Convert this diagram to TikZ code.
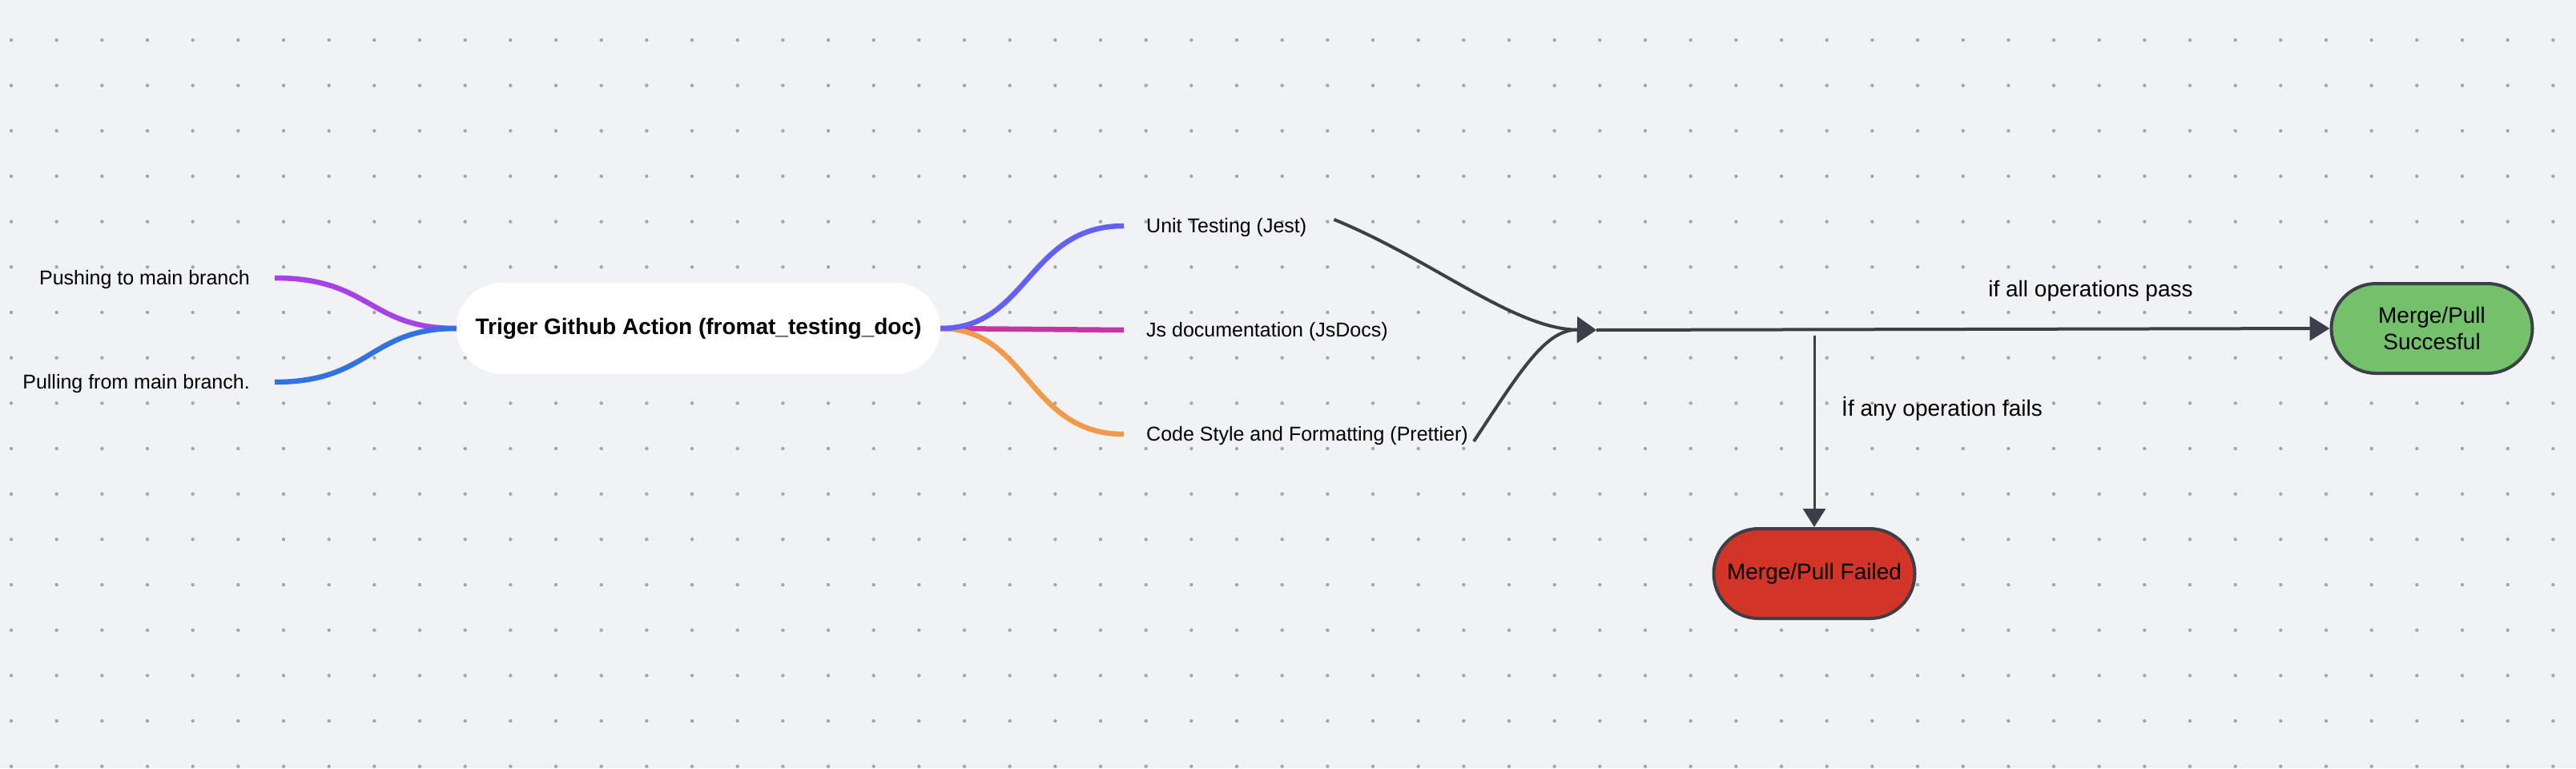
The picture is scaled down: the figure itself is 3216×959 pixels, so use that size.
\documentclass[tikz,border=0pt]{standalone}
\usepackage{fontspec}
\setmainfont{Liberation Sans}
\usetikzlibrary{arrows.meta,calc}
\definecolor{bgc}{HTML}{F1F2F4}
\definecolor{dotc}{HTML}{A3A5AA}
\definecolor{pushc}{HTML}{A841E6}
\definecolor{pullc}{HTML}{2F72E0}
\definecolor{unitc}{HTML}{6360F7}
\definecolor{jsc}{HTML}{C535A3}
\definecolor{codec}{HTML}{F09A4A}
\definecolor{darkc}{HTML}{3B4048}
\definecolor{greenc}{HTML}{74C16B}
\definecolor{redc}{HTML}{D33428}
\begin{document}
\begin{tikzpicture}[x=1pt,y=-1pt,
  lbl/.style={inner sep=0pt, text height=18pt, text depth=5pt, font=\fontsize{25}{30}\selectfont},
  edgelbl/.style={inner sep=0pt, font=\fontsize{28}{33}\selectfont},
  mainbox/.style={fill=white, rounded corners=57pt, minimum width=604pt, minimum height=114pt, inner sep=0pt, font=\bfseries\fontsize{28}{33}\selectfont},
  pill/.style={draw=darkc, line width=4pt, rounded corners=56pt, minimum width=251pt, minimum height=112pt, inner sep=0pt, align=center, font=\fontsize{28}{33}\selectfont},
  branch/.style={line width=6.5pt},
  flow/.style={draw=darkc, line width=4pt},
  bigtip/.style={-{Triangle[length=24pt,width=32pt]}},
]
\useasboundingbox (0,0) rectangle (3216,959);
\fill[bgc] (0,0) rectangle (3216,959);
\foreach \i in {0,...,56}{
  \foreach \j in {0,...,16}{
    \fill[dotc] (14+\i*56.667, 50+\j*56.667) circle[radius=2.2pt];
  }
}
% nodes
\node[lbl, anchor=east] (push) at (312,349) {Pushing to main branch};
\node[lbl, anchor=east] (pull) at (312,479) {Pulling from main branch.};
\node[mainbox] (main) at (872,410) {Triger Github Action (fromat\_testing\_doc)};
\node[lbl, anchor=west] (unit) at (1431,284) {Unit Testing (Jest)};
\node[lbl, anchor=west] (js) at (1431,414) {Js documentation (JsDocs)};
\node[lbl, anchor=west] (code) at (1431,544) {Code Style and Formatting (Prettier)};
\node[pill, fill=greenc] (succ) at (3036,410) {Merge/Pull\\Succesful};
\node[pill, fill=redc] (fail) at (2265,716) {Merge/Pull Failed};
\coordinate (J) at (1993,412);
\coordinate (V) at (2265,419);
% branches left
\draw[branch, pushc] ([xshift=31pt,yshift=2pt]push.east) .. controls +(120,0) and +(-110,0) .. (main.west);
\draw[branch, pullc] ([xshift=31pt,yshift=2pt]pull.east) .. controls +(120,0) and +(-110,0) .. (main.west);
% branches right
\draw[branch, jsc] (main.east) -- ([xshift=-28pt,yshift=2pt]js.west);
\draw[branch, codec] (main.east) .. controls +(110,0) and +(-120,0) .. ([xshift=-28pt,yshift=2pt]code.west);
\draw[branch, unitc] (main.east) .. controls +(110,0) and +(-120,0) .. ([xshift=-28pt,yshift=2pt]unit.west);
% flow
\draw[flow, bigtip] ([xshift=34pt,yshift=10pt]unit.east) .. controls (1790,325) and (1890,411) .. (J);
\draw[flow, bigtip] ([xshift=7pt,yshift=-7pt]code.east) .. controls (1900,460) and (1930,411) .. (J);
\draw[flow, -{Triangle[length=25pt,width=30pt]}] (J) -- (succ.west);
\draw[draw=darkc, line width=3pt, -{Triangle[length=23pt,width=28pt]}] (V) -- (fail.north);
\node[edgelbl] (passlbl) at (2610,363) {if all operations pass};
\node[edgelbl, anchor=west] (faillbl) at (2299,510) {İf any operation fails};
\end{tikzpicture}
\end{document}
